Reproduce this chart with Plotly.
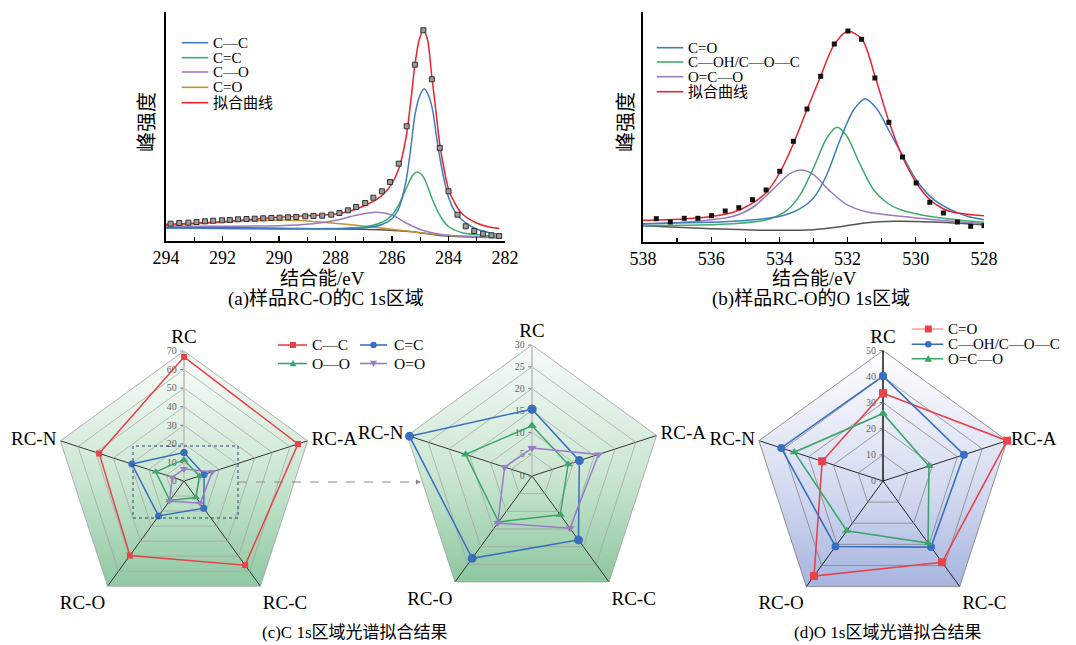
import math
import plotly.graph_objects as go

W, H = 1076, 645
FONT = "Liberation Serif, Noto Sans CJK SC"

# ---------------- (a) C 1s spectrum ----------------
a_fit_x = [294.0, 292.0, 290.0, 288.0, 287.5, 287.0, 286.5, 286.2, 286.0, 285.74, 285.5, 285.33,
           285.19, 285.04, 284.89, 284.74, 284.6, 284.45, 284.31, 284.15, 284.0, 283.74, 283.51,
           283.01, 282.56, 282.21]
a_fit_y = [16.7, 19.3, 23.7, 27.0, 29.7, 35.0, 42.3, 50.0, 57.3, 74, 104, 141,
           176, 201, 211, 201, 167, 131, 97, 71, 52, 36, 27,
           18, 14, 12.5]
a_pts_x = [293.84, 293.53, 293.21, 292.92, 292.62, 292.33, 292.02, 291.74, 291.45, 291.15, 290.86,
           290.56, 290.27, 289.98, 289.68, 289.39, 289.07, 288.78, 288.47, 288.15, 287.86, 287.56,
           287.27, 286.95, 286.66, 286.36, 286.07, 285.76, 285.48, 285.19, 284.89, 284.59, 284.31,
           284.0, 283.68, 283.39, 283.09, 282.78, 282.48, 282.21]
a_pts_y = [17.3, 18, 18.3, 19, 19.7, 20.3, 20.7, 21, 21.7, 22, 22.3,
           22.7, 23, 23.3, 23.7, 24, 24.7, 25, 25.3, 26.3, 28, 30.7,
           34, 38, 43.3, 49.7, 59, 77.3, 114.7, 176.3, 210.7, 161.7, 93,
           49.7, 26.3, 14.7, 10, 7.3, 5.7, 5]
a_cc_x = [294, 290, 287.03, 286.33, 286.0, 285.74, 285.5, 285.33, 285.18, 285.01, 284.86, 284.71,
          284.56, 284.44, 284.31, 284.15, 284.0, 283.8, 283.51, 283.04, 282.21]
a_cc_y = [13, 12.3, 13, 16.7, 22.3, 34, 60.7, 94, 127.3, 145.7, 152.3, 145.7,
          130.7, 107.3, 84, 60.7, 44, 30.7, 20.7, 12.3, 6.3]
a_cdc_x = [294, 287.03, 286.33, 286.0, 285.74, 285.5, 285.29, 285.13, 284.96, 284.8, 284.56, 284.27,
           283.98, 283.51, 282.21]
a_cdc_y = [13, 14, 19, 25.7, 37.3, 52.3, 64.7, 69, 66.7, 59, 40.7, 24, 14, 8.3, 4.7]
a_co_x = [294, 290, 288.8, 287.98, 287.27, 286.56, 285.98, 285.5, 284.92, 284.21, 282.21]
a_co_y = [14.7, 15.3, 17.3, 20.7, 25.7, 28.7, 25.7, 18, 10.7, 6.3, 3.7]
a_cdo_x = [294, 291.74, 289.74, 288.68, 287.62, 286.45, 285.27, 284.21, 282.21]
a_cdo_y = [15.3, 19.3, 21, 19.3, 16.7, 13.3, 9.3, 5.7, 3.7]
a_bg_x = [294, 290, 286.45, 285.27, 284.21, 282.21]
a_bg_y = [13.7, 12.7, 11.3, 9.3, 5.3, 3.3]
a_names = ["C—C", "C=C", "C—O", "C=O", "拟合曲线"]
a_ticks = [294, 292, 290, 288, 286, 284, 282]

# ---------------- (b) O 1s spectrum ----------------
b_fit_x = [538, 536.82, 535.94, 535.35, 534.86, 534.37, 533.98, 533.59, 533.2, 532.8, 532.41, 532.0,
           531.58, 531.19, 530.79, 530.4, 529.98, 529.57, 529.18, 528.78, 528.0]
b_fit_y = [21.7, 23, 25.7, 29.7, 37.3, 50, 70, 98.3, 131.7, 165, 196.3, 210.7,
           203, 165, 120.7, 85.7, 59, 41.7, 33, 29, 26.3]
b_pts_x = [537.61, 537.2, 536.79, 536.39, 535.99, 535.59, 535.19, 534.79, 534.39, 533.99, 533.59,
           533.19, 532.79, 532.39, 531.99, 531.59, 531.2, 530.79, 530.39, 529.99, 529.59, 529.19,
           528.78, 528.39, 528.0]
b_pts_y = [23.3, 20, 23.7, 23.7, 26.3, 31, 34.3, 42.3, 52, 70.7, 100.7,
           133, 165.7, 198, 211, 202.7, 164, 119.7, 85, 59, 39.7, 29,
           20, 15.7, 16.3]
b_cdo_x = [538, 535.35, 533.98, 533.39, 533.0, 532.61, 532.22, 531.82, 531.48, 531.14, 530.75, 530.35,
           529.96, 529.47, 528.98, 528.49, 528.0]
b_cdo_y = [18.3, 20.7, 25.7, 33.3, 44, 67.3, 102.3, 132.3, 143.3, 133, 109, 84,
           60.7, 42.3, 32.3, 25.7, 22.3]
b_coh_x = [538, 535.35, 534.37, 533.78, 533.39, 533.0, 532.61, 532.31, 532.02, 531.63, 531.24, 530.84,
           530.45, 529.47, 528.0]
b_coh_y = [16.3, 18.3, 22.3, 31.7, 47.3, 74, 104, 114.7, 105.7, 77.3, 52.3, 39, 32.3, 25, 19.7]
b_oco_x = [538, 536.33, 535.35, 534.76, 534.18, 533.69, 533.34, 533.0, 532.51, 532.02, 531.43, 530.45,
           529.47, 528.0]
b_oco_y = [18, 21, 25.7, 35, 53, 68.3, 72, 67.3, 50.7, 37.3, 30, 25.7, 22.3, 18.3]
b_bg_x = [538, 536.33, 534.37, 533.0, 532.22, 531.43, 530.65, 529.47, 528.0]
b_bg_y = [16.3, 13.7, 11.7, 12.3, 15.3, 19.3, 20.7, 20, 17.3]
b_names = ["C=O", "C—OH/C—O—C", "O=C—O", "拟合曲线"]
b_ticks = [538, 536, 534, 532, 530, 528]

# ---------------- (c)/(d) radar data ----------------
cats = ["RC", "RC-A", "RC-C", "RC-O", "RC-N"]
c_names = ["C—C", "C=C", "O—O", "O=O"]
c_cc = [66.8, 64.5, 56.0, 49.6, 48.0]
c_cdc = [15.3, 11.4, 18.1, 23.3, 29.5]
c_oo = [11.5, 8.7, 11.0, 13.0, 16.0]
c_odo = [6.4, 16.0, 14.8, 13.3, 6.6]
d_names = ["C=O", "C—OH/C—O—C", "O=C—O"]
d_cdo = [33.6, 50.0, 38.5, 45.0, 24.5]
d_coh = [40.2, 32.6, 31.3, 31.0, 41.0]
d_oco = [25.9, 18.5, 29.4, 23.6, 35.7]

# colours
RED, BLUE, GREEN, PURPLE, TAN, GRAY = "#e8242b", "#3d7cbf", "#3fab6d", "#9a7bbf", "#c39232", "#555555"
RRED, RBLUE, RGREEN, RPURPLE = "#e8434b", "#3a6fbf", "#3da56b", "#9a7cc8"


def px(x):
    return x / W


def py(y):
    return 1 - y / H


fig = go.Figure()


def curve(x, y, color, xa, ya, width=1.5):
    fig.add_trace(go.Scatter(x=x, y=y, mode="lines", xaxis=xa, yaxis=ya, showlegend=False,
                             hoverinfo="skip",
                             line=dict(color=color, width=width, shape="spline", smoothing=0.8)))


# (a)
curve(a_bg_x, a_bg_y, GRAY, "x", "y")
curve(a_cdo_x, a_cdo_y, TAN, "x", "y")
curve(a_co_x, a_co_y, PURPLE, "x", "y")
curve(a_cdc_x, a_cdc_y, GREEN, "x", "y")
curve(a_cc_x, a_cc_y, BLUE, "x", "y")
curve(a_fit_x, a_fit_y, RED, "x", "y")
fig.add_trace(go.Scatter(x=a_pts_x, y=a_pts_y, mode="markers", xaxis="x", yaxis="y", showlegend=False,
                         marker=dict(symbol="square", size=5, color="#9a9a9a",
                                     line=dict(color="#333333", width=1))))
# (b)
curve(b_bg_x, b_bg_y, GRAY, "x2", "y2")
curve(b_oco_x, b_oco_y, PURPLE, "x2", "y2")
curve(b_coh_x, b_coh_y, GREEN, "x2", "y2")
curve(b_cdo_x, b_cdo_y, BLUE, "x2", "y2")
curve(b_fit_x, b_fit_y, RED, "x2", "y2")
fig.add_trace(go.Scatter(x=b_pts_x, y=b_pts_y, mode="markers", xaxis="x2", yaxis="y2", showlegend=False,
                         marker=dict(symbol="square", size=5, color="#111111")))

# gradient pentagon backgrounds (cartesian overlays behind polar subplots)
n = len(cats)
ang = [math.radians(90 - 360 * k / n) for k in range(n + 1)]
pent_x = [math.cos(a) for a in ang]
pent_y = [math.sin(a) for a in ang]
ymin = min(pent_y)
grads = {
    "3": [[0, "#8fc9a1"], [0.45, "#c9e6d1"], [1, "#fbfdfb"]],
    "4": [[0, "#8cc79e"], [0.45, "#cbe6d2"], [1, "#f7fbf8"]],
    "5": [[0, "#a6b4df"], [0.4, "#d3daf0"], [1, "#ffffff"]],
}
for k, cs in grads.items():
    fig.add_trace(go.Scatter(x=pent_x, y=pent_y, mode="lines", fill="toself", line=dict(width=0),
                             fillgradient=dict(type="vertical", colorscale=cs, start=ymin, stop=1.0),
                             xaxis="x" + k, yaxis="y" + k, showlegend=False, hoverinfo="skip"))


def radar(r, color, symbol, size, sub, width=1.5):
    fig.add_trace(go.Scatterpolar(r=r + [r[0]], theta=cats + [cats[0]], mode="lines+markers",
                                  subplot=sub, showlegend=False,
                                  line=dict(color=color, width=width),
                                  marker=dict(symbol=symbol, size=size, color=color)))


radar(c_cc, RRED, "square", 6, "polar")
radar(c_cdc, RBLUE, "circle", 7, "polar")
radar(c_oo, RGREEN, "triangle-up", 7, "polar")
radar(c_odo, RPURPLE, "triangle-down", 7, "polar")
radar(c_cdc, RBLUE, "circle", 9, "polar2")
radar(c_oo, RGREEN, "triangle-up", 8, "polar2")
radar(c_odo, RPURPLE, "triangle-down", 8, "polar2")
radar(d_cdo, RRED, "square", 8, "polar3", 1.6)
radar(d_coh, RBLUE, "circle", 8, "polar3", 1.6)
radar(d_oco, RGREEN, "triangle-up", 8, "polar3", 1.6)


def spec_x(dom, rng, ticks, anchor):
    return dict(domain=dom, range=rng, tickvals=ticks, ticks="inside", ticklen=5, tickwidth=1.2,
                tickcolor="black", minor=dict(dtick=1, ticks="inside", ticklen=4, tickcolor="black",
                                             tickwidth=1.2),
                showline=True, linecolor="black", linewidth=1.6, showgrid=False, zeroline=False,
                tickfont=dict(family=FONT, size=18, color="black"), anchor=anchor, automargin=False,
                fixedrange=True)


def spec_y(dom, rng, anchor):
    return dict(domain=dom, range=rng, showline=True, linecolor="black", linewidth=1.6, ticks="",
                showticklabels=False, showgrid=False, zeroline=False, anchor=anchor, automargin=False,
                fixedrange=True)


def box(cx, cy, R):
    return [px(cx - R), px(cx + R)], [py(cy + R), py(cy - R)]


dom_c1 = box(184, 481, 130)
dom_c2 = box(532, 476, 131)
dom_d = box(883, 481, 130.5)


def hidden(dom, anchor):
    return dict(domain=dom, range=[-1, 1], visible=False, fixedrange=True, anchor=anchor, automargin=False)


def polar_layout(dom, rmax, dtick, ring, spoke, showrad, radcolor):
    return dict(
        domain=dict(x=dom[0], y=dom[1]), bgcolor="rgba(0,0,0,0)", gridshape="linear",
        angularaxis=dict(type="category", categoryorder="array", categoryarray=cats, direction="clockwise",
                         rotation=90, showline=True, linecolor=ring, linewidth=0.8, gridcolor=spoke,
                         gridwidth=0.9, ticks="", tickfont=dict(family=FONT, size=19, color="black"),
                         layer="below traces"),
        radialaxis=dict(range=[0, rmax], dtick=dtick, angle=90, side="counterclockwise", ticks="outside",
                        ticklen=3, tickcolor="#777", showline=True, linecolor=radcolor,
                        linewidth=1.0 if showrad else 1.6, gridcolor=ring, gridwidth=0.7,
                        tickfont=dict(family=FONT, size=10, color="#666"), layer="below traces",
                        tickangle=90),
    )


fig.update_layout(
    width=W, height=H, margin=dict(l=0, r=0, t=0, b=0), paper_bgcolor="white", plot_bgcolor="rgba(0,0,0,0)",
    showlegend=False, font=dict(family=FONT, color="black"),
    xaxis=spec_x([px(166), px(505)], [294, 282], a_ticks, "y"),
    yaxis=spec_y([py(241), py(12)], [0, 229], "x"),
    xaxis2=spec_x([px(643), px(984)], [538, 528], b_ticks, "y2"),
    yaxis2=spec_y([py(242), py(12)], [0, 230], "x2"),
    xaxis3=hidden(dom_c1[0], "y3"), yaxis3=hidden(dom_c1[1], "x3"),
    xaxis4=hidden(dom_c2[0], "y4"), yaxis4=hidden(dom_c2[1], "x4"),
    xaxis5=hidden(dom_d[0], "y5"), yaxis5=hidden(dom_d[1], "x5"),
    polar=polar_layout(dom_c1, 70, 10, "#a0a0a0", "#222222", False, "#d4d8d4"),
    polar2=polar_layout(dom_c2, 30, 5, "#a0a0a0", "#222222", False, "#d4d8d4"),
    polar3=polar_layout(dom_d, 50, 10, "#7a7a7a", "#111111", True, "#111111"),
)

shapes = []
annotations = []


def text(x, y, s, size, anchor="center", angle=0):
    annotations.append(dict(xref="paper", yref="paper", x=px(x), y=py(y), text=s, showarrow=False,
                            xanchor=anchor, yanchor="middle", textangle=angle,
                            font=dict(family=FONT, size=size, color="black")))


def marker_shape(kind, x, y, h, color):
    if kind == "square":
        shapes.append(dict(type="rect", xref="paper", yref="paper", x0=px(x - h), x1=px(x + h),
                           y0=py(y + h), y1=py(y - h), fillcolor=color, line=dict(width=0)))
    elif kind == "circle":
        shapes.append(dict(type="circle", xref="paper", yref="paper", x0=px(x - h), x1=px(x + h),
                           y0=py(y + h), y1=py(y - h), fillcolor=color, line=dict(width=0)))
    else:
        s = -1 if kind == "up" else 1
        path = "M {:.5f},{:.5f} L {:.5f},{:.5f} L {:.5f},{:.5f} Z".format(
            px(x), py(y + s * h), px(x + h), py(y - s * h * 0.8), px(x - h), py(y - s * h * 0.8))
        shapes.append(dict(type="path", xref="paper", yref="paper", path=path, fillcolor=color,
                           line=dict(width=0)))


def legend_item(x0, x1, y, color, name, size, kind=None, mx=None, h=3, lcolor=None, tx=None):
    shapes.append(dict(type="line", xref="paper", yref="paper", x0=px(x0), x1=px(x1), y0=py(y), y1=py(y),
                       line=dict(color=lcolor or color, width=1.6)))
    if kind:
        marker_shape(kind, mx, y, h, color)
    text(tx if tx else x1 + 3, y, name, size, "left")


# legends (a)
for name, col, yy in zip(a_names, [BLUE, GREEN, PURPLE, TAN, RED], [42.7, 57.7, 72.0, 87.3, 102.7]):
    legend_item(181.7, 208.3, yy, col, name, 15)
# legends (b)
for name, col, yy in zip(b_names, [BLUE, GREEN, PURPLE, RED], [47.7, 62.0, 76.7, 91.7]):
    legend_item(656.7, 683.3, yy, col, name, 15)
# legend (c)
legend_item(278, 307, 345, RRED, c_names[0], 15.5, "square", 293, 3)
legend_item(360, 387, 345, RBLUE, c_names[1], 15.5, "circle", 373.5, 3.2, tx=391.5)
legend_item(278, 307, 363.5, RGREEN, c_names[2], 15.5, "up", 293, 3.5)
legend_item(360, 387, 363.5, RPURPLE, c_names[3], 15.5, "down", 373.5, 3.5, tx=391.5)
# legend (d)
legend_item(911.7, 943.3, 329, RRED, d_names[0], 15, "square", 928.3, 3.5, lcolor="#f2a2a5")
legend_item(911.7, 943.3, 344.3, RBLUE, d_names[1], 15, "circle", 928.3, 3.3)
legend_item(911.7, 943.3, 358.8, RGREEN, d_names[2], 15, "up", 928.3, 3.8)

# zoom box and arrow in (c)
shapes.append(dict(type="rect", xref="paper", yref="paper", x0=px(133), x1=px(238), y0=py(518), y1=py(446),
                   line=dict(color="#2c3e70", width=1, dash="dot")))
shapes.append(dict(type="line", xref="paper", yref="paper", x0=px(238), x1=px(417), y0=py(482), y1=py(482),
                   line=dict(color="#8a8a8a", width=1, dash="dash")))
annotations.append(dict(xref="paper", yref="paper", x=px(421), y=py(482), ax=-7, ay=0, text="",
                        showarrow=True, arrowhead=2, arrowsize=1, arrowwidth=1, arrowcolor="#8a8a8a"))

# titles & captions
text(147, 122, "峰强度", 20, angle=-90)
text(626, 122, "峰强度", 20, angle=-90)
text(322, 279, "结合能/eV", 19)
text(814, 279, "结合能/eV", 19)
text(326, 299, "(a)样品RC-O的C 1s区域", 19)
text(811, 299, "(b)样品RC-O的O 1s区域", 19)
text(355, 632, "(c)C 1s区域光谱拟合结果", 17)
text(887, 632, "(d)O 1s区域光谱拟合结果", 17)

fig.update_layout(shapes=shapes, annotations=annotations)
fig.write_html("out.html", config={"displayModeBar": False, "staticPlot": True},
               post_script="document.body.style.margin='0px';document.body.style.overflow='hidden';")
